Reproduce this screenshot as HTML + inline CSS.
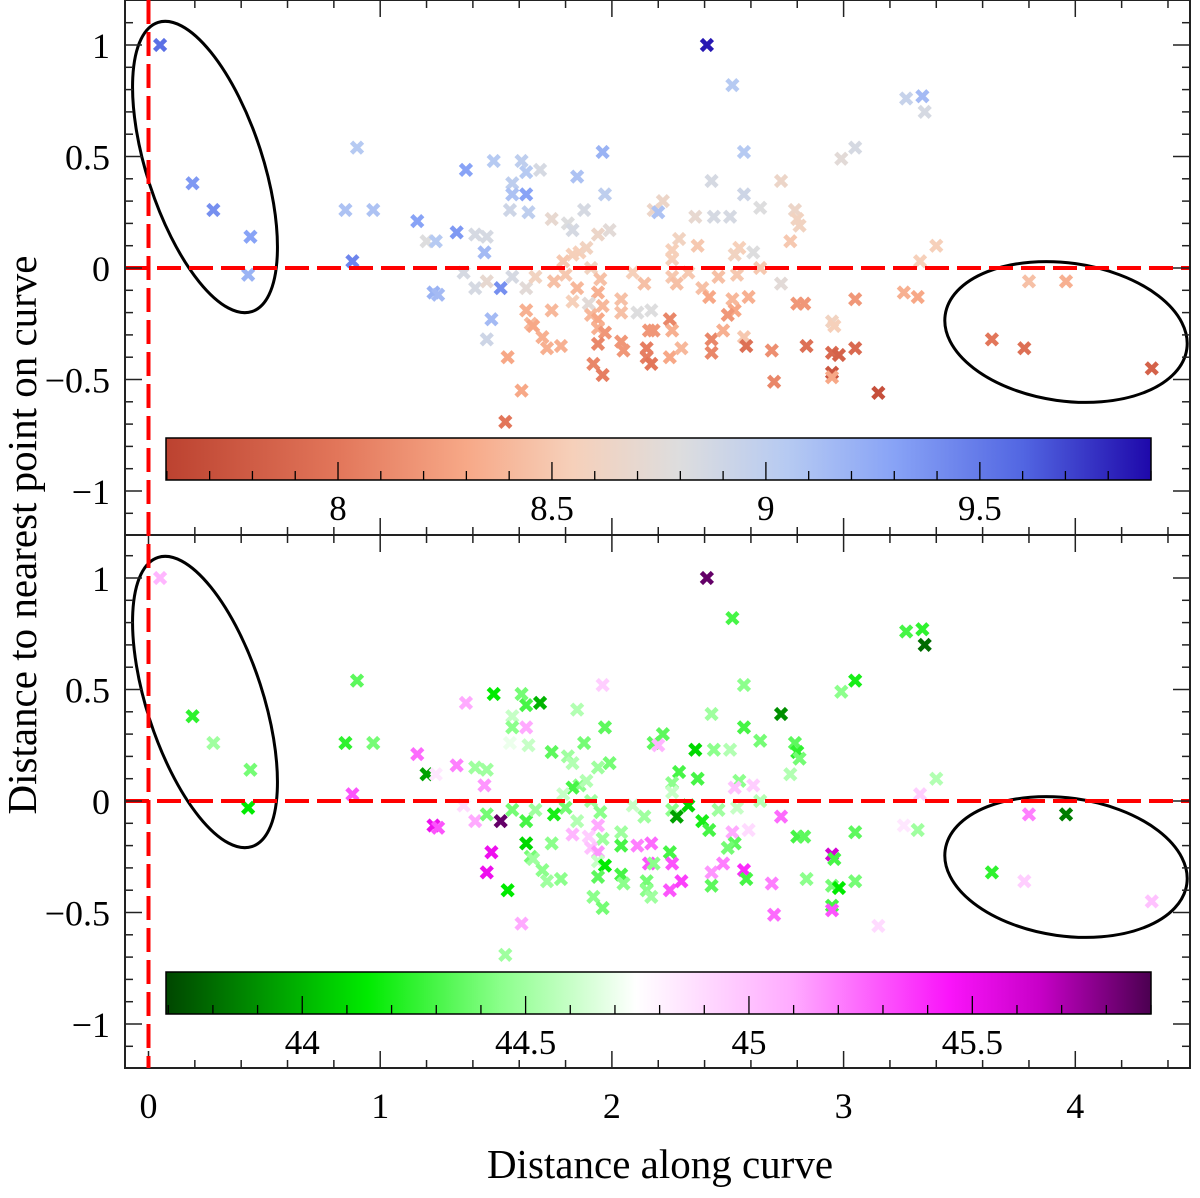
<!DOCTYPE html>
<html><head><meta charset="utf-8"><style>
html,body{margin:0;padding:0;background:#fff}
svg text{font-family:"Liberation Serif",serif;fill:#000}
</style></head><body>
<svg id="chart" xmlns="http://www.w3.org/2000/svg" width="1200" height="1193" viewBox="0 0 1200 1193">
<defs>
<linearGradient id="gTop" x1="0" x2="1" y1="0" y2="0"></linearGradient>
<linearGradient id="gBot" x1="0" x2="1" y1="0" y2="0"></linearGradient>
</defs>
<g id="root"></g>
<text x="0" y="0" font-size="41" text-anchor="middle" transform="translate(36,535) rotate(-90)">Distance to nearest point on curve</text>
<text x="660" y="1178" font-size="41" text-anchor="middle">Distance along curve</text>
</svg>
<script>
const xVals=[0.05,0.19,0.28,0.44,0.43,0.90,0.85,0.97,1.16,0.88,1.37,1.49,1.61,1.63,1.57,1.57,1.63,1.56,1.64,1.33,1.20,1.24,1.41,1.46,1.45,1.36,1.41,1.46,1.52,1.23,1.25,1.48,1.46,1.55,1.61,1.54,1.57,1.63,1.63,1.65,
2.41,2.52,3.27,3.34,3.35,3.05,2.99,1.96,1.85,1.69,1.97,2.57,2.43,2.57,2.73,1.88,1.74,1.81,1.83,1.94,1.99,2.18,2.22,2.20,2.36,2.44,2.51,2.64,2.79,2.80,2.81,2.77,3.40,3.33,2.29,2.26,2.26,2.37,2.55,2.53,2.61,1.86,1.83,1.89,1.79,1.91,2.64,1.67,1.80,1.75,1.95,2.09,2.14,2.26,2.28,2.33,2.46,2.54,2.73,1.85,2.39,2.42,1.94,1.83,1.90,1.96,2.04,2.04,2.11,2.17,1.74,2.52,2.59,2.53,2.50,2.80,2.83,3.05,3.26,3.32,1.66,1.91,1.94,2.25,2.26,2.16,2.18,1.94,1.97,2.95,2.96,1.70,1.72,1.78,1.94,2.04,2.05,2.15,2.15,2.17,2.25,2.30,2.43,2.43,2.48,2.57,2.58,2.69,2.84,2.95,2.98,3.05,1.92,1.96,2.95,2.95,2.70,3.15,3.64,3.78,3.80,3.96,4.33];
const yVals=[1.00,0.38,0.26,0.14,-0.03,0.54,0.26,0.26,0.21,0.03,0.44,0.48,0.48,0.43,0.38,0.33,0.33,0.26,0.25,0.16,0.12,0.12,0.15,0.14,0.07,-0.02,-0.09,-0.06,-0.09,-0.11,-0.12,-0.23,-0.32,-0.40,-0.55,-0.69,-0.04,-0.09,-0.19,-0.25,
1.00,0.82,0.76,0.77,0.70,0.54,0.49,0.52,0.41,0.44,0.33,0.52,0.39,0.33,0.39,0.26,0.22,0.20,0.17,0.15,0.17,0.26,0.30,0.25,0.23,0.23,0.23,0.27,0.26,0.22,0.19,0.12,0.10,0.03,0.13,0.08,0.04,0.10,0.09,0.06,0.07,0.07,0.06,0.09,0.03,0.00,0.00,-0.04,-0.03,-0.06,-0.05,-0.02,-0.07,-0.04,-0.07,-0.02,-0.04,-0.03,-0.07,-0.09,-0.09,-0.13,-0.11,-0.15,-0.16,-0.17,-0.14,-0.20,-0.20,-0.19,-0.19,-0.14,-0.13,-0.19,-0.21,-0.16,-0.16,-0.14,-0.11,-0.13,-0.26,-0.21,-0.23,-0.23,-0.28,-0.28,-0.28,-0.27,-0.29,-0.24,-0.26,-0.31,-0.36,-0.35,-0.34,-0.33,-0.37,-0.36,-0.40,-0.43,-0.40,-0.36,-0.32,-0.38,-0.28,-0.31,-0.35,-0.37,-0.35,-0.38,-0.39,-0.36,-0.43,-0.48,-0.47,-0.49,-0.51,-0.56,-0.32,-0.36,-0.06,-0.06,-0.45];
const topColorVals=[9.55,9.35,9.4,9.3,9.2,9.05,9.1,9.1,9.3,9.45,9.3,9.05,9.0,9.05,9.0,9.1,9.3,8.9,9.0,9.35,8.8,9.05,8.85,8.85,9.15,8.85,8.85,8.7,9.4,9.2,9.15,9.15,8.9,8.3,8.3,8.0,8.85,8.75,8.35,8.4,
9.85,9.05,8.95,9.15,8.85,8.85,8.75,9.2,9.1,8.85,9.0,9.05,8.85,8.9,8.65,8.85,8.7,8.8,8.85,8.65,8.75,8.65,8.65,9.1,8.7,8.85,8.85,8.8,8.65,8.6,8.6,8.5,8.55,8.55,8.6,8.55,8.55,8.5,8.55,8.6,8.8,8.55,8.55,8.6,8.5,8.6,8.5,8.6,8.5,8.45,8.45,8.55,8.45,8.5,8.45,8.5,8.45,8.5,8.75,8.4,8.45,8.3,8.35,8.55,8.75,8.4,8.45,8.45,8.8,8.8,8.4,8.4,8.35,8.3,8.2,8.2,8.2,8.2,8.35,8.3,8.3,8.4,8.3,8.1,8.35,8.2,8.2,8.35,8.2,8.6,8.55,8.35,8.35,8.35,8.1,8.2,8.2,8.05,8.05,8.0,8.3,8.4,8.1,8.1,8.35,8.5,7.95,8.15,7.95,7.9,7.85,7.9,8.1,8.05,7.75,8.3,8.1,7.7,8.0,7.95,8.45,8.35,7.85];
const botColorVals=[45.05,44.25,44.5,44.4,44.15,44.35,44.25,44.4,45.25,45.3,45.1,44.15,44.4,44.3,44.6,44.45,45.1,44.7,44.6,45.2,43.95,44.85,44.5,44.5,45.15,44.9,45.1,44.4,45.85,45.5,45.3,45.5,45.5,44.15,45.1,44.5,44.4,44.3,44.1,44.4,
45.85,44.3,44.3,44.25,43.8,44.2,44.45,44.95,44.55,44.0,44.35,44.45,44.5,44.3,43.9,44.4,44.35,44.5,44.55,44.5,44.4,44.35,44.35,45.05,44.1,44.45,44.55,44.4,44.35,44.25,44.4,44.55,44.55,44.95,44.3,44.45,44.6,44.3,44.45,45.0,44.95,44.45,44.3,44.55,44.6,44.5,44.55,44.5,44.4,44.2,44.45,44.6,44.5,44.45,43.95,44.1,44.5,44.6,45.25,44.55,44.2,44.3,45.1,45.05,44.95,44.5,44.5,44.3,45.2,45.25,44.45,45.1,44.9,44.35,44.4,44.3,44.35,44.35,44.85,44.5,44.5,45.0,45.15,44.3,45.3,45.3,44.45,44.6,44.15,45.6,44.3,44.45,44.5,44.45,44.35,44.3,44.45,44.4,44.45,44.5,45.3,45.35,45.15,44.35,45.2,45.4,44.3,45.2,44.45,44.4,44.15,44.4,44.45,44.4,44.3,45.3,45.25,44.9,44.25,44.95,45.2,43.85,45.0];
const xTickLabels=["0","1","2","3","4"];
const yTickLabels=["1","0.5","0","\u22120.5","\u22121"];
const topCbTicks=["8","8.5","9","9.5"];
const botCbTicks=["44","44.5","45","45.5"];

const NS="http://www.w3.org/2000/svg";
const root=document.getElementById('root');
function mk(tag,attrs,parent){const e=document.createElementNS(NS,tag);for(const k in attrs)e.setAttribute(k,attrs[k]);(parent||root).appendChild(e);return e;}
const L=125,R=1190;
const xS=v=>148.5+v*231.7;
const panels=[{top:0,bot:535,zero:268,name:'top'},{top:535,bot:1068,zero:801,name:'bottom'}];
const yS=(p,v)=>p.zero-v*223;

const topStops=[[7.6,[188,66,48]],[8.0,[226,118,90]],[8.3,[247,168,135]],[8.55,[246,208,186]],[8.8,[221,221,222]],[9.05,[182,202,242]],[9.3,[136,163,246]],[9.6,[82,102,226]],[9.9,[30,8,170]]];
const botStops=[[43.7,[0,70,0]],[44.15,[0,235,0]],[44.45,[140,255,140]],[44.75,[255,255,255]],[45.1,[255,170,255]],[45.45,[250,20,250]],[45.65,[200,0,200]],[45.9,[75,0,80]]];
function cmap(stops,v){if(v<=stops[0][0])return 'rgb('+stops[0][1]+')';for(let i=1;i<stops.length;i++){if(v<=stops[i][0]){const a=stops[i-1],b=stops[i];const t=(v-a[0])/(b[0]-a[0]);return 'rgb('+a[1].map((c,j)=>Math.round(c+(b[1][j]-c)*t)).join(',')+')';}}return 'rgb('+stops[stops.length-1][1]+')';}
function fillGrad(id,stops){const g=document.getElementById(id);const lo=stops[0][0],hi=stops[stops.length-1][0];stops.forEach(s=>{const st=document.createElementNS(NS,'stop');st.setAttribute('offset',((s[0]-lo)/(hi-lo)*100)+'%');st.setAttribute('stop-color','rgb('+s[1]+')');g.appendChild(st);});}
fillGrad('gTop',topStops);fillGrad('gBot',botStops);

panels.forEach((p,pi)=>{
  const g=mk('g',{});
  
  
  const e1=mk('ellipse',{cx:205,cy:p.top+167,rx:58,ry:152,transform:`rotate(-18 205 ${p.top+167})`,fill:'none',stroke:'#000','stroke-width':3},g);
  
  
  const e2=mk('ellipse',{cx:1066,cy:p.top+332,rx:122,ry:69,transform:`rotate(8 1066 ${p.top+332})`,fill:'none',stroke:'#000','stroke-width':3},g);
  
  
  const cols=pi===0?topColorVals:botColorVals;const stops=pi===0?topStops:botStops;
  for(let i=0;i<xVals.length;i++){
    const cx=xS(xVals[i]),cy=yS(p,yVals[i]),c=cmap(stops,cols[i]),s=5.5;
    const m=mk('path',{d:`M${cx-s},${cy-s}L${cx+s},${cy+s}M${cx-s},${cy+s}L${cx+s},${cy-s}`,stroke:c,'stroke-width':4.6,fill:'none'},g);
    
    
  }
  const hz=mk('line',{x1:L,x2:R,y1:p.zero,y2:p.zero,stroke:'#ff0000','stroke-width':4,'stroke-dasharray':'24,8'},g);
  
  
  const cbTop=pi===0?438:972,cbH=42,cbL=166,cbR=1151;
  const lo=pi===0?7.598:43.695,hi=pi===0?9.9:45.9;
  const cS=v=>cbL+(v-lo)/(hi-lo)*(cbR-cbL);
  const cb=mk('rect',{x:cbL,y:cbTop,width:cbR-cbL,height:cbH,fill:pi===0?'url(#gTop)':'url(#gBot)',stroke:'#000','stroke-width':1.5},g);
  
  
  const labs=pi===0?topCbTicks:botCbTicks;
  for(let k=Math.ceil(lo*10);k<=Math.floor(hi*10);k++){const v=k/10;const maj=k%5===0;const x=cS(v);mk('line',{x1:x,x2:x,y1:cbTop+cbH,y2:cbTop+cbH-(maj?18:9),stroke:'#000','stroke-width':1.3},g);}
  labs.forEach(t=>{const tx=mk('text',{x:cS(parseFloat(t)),y:cbTop+cbH+40,'font-size':35,'text-anchor':'middle'},g);tx.textContent=t;});
  const fr=mk('rect',{x:L,y:p.top,width:R-L,height:p.bot-p.top,fill:'none',stroke:'#222','stroke-width':2},g);
  
  
  for(let k=0;k<=22;k++){const v=k/5;const x=xS(v);if(x>R)break;const maj=k%5===0;const len=maj?17:8;
    mk('line',{x1:x,x2:x,y1:p.top,y2:p.top+len,stroke:'#222','stroke-width':1.5},g);
    mk('line',{x1:x,x2:x,y1:p.bot,y2:p.bot-len,stroke:'#222','stroke-width':1.5},g);}
  for(let k=-11;k<=11;k++){const v=k/10;const y=yS(p,v);const maj=k%5===0;const len=maj?17:8;
    mk('line',{x1:L,x2:L+len,y1:y,y2:y,stroke:'#222','stroke-width':1.5},g);
    mk('line',{x1:R,x2:R-len,y1:y,y2:y,stroke:'#222','stroke-width':1.5},g);}
  yTickLabels.forEach((t,i)=>{const v=1-i*0.5;const tx=mk('text',{x:110,y:yS(p,v)+13,'font-size':36,'text-anchor':'end'},g);tx.textContent=t;});
});
const vz=mk('line',{x1:xS(0),x2:xS(0),y1:0,y2:1068,stroke:'#ff0000','stroke-width':4,'stroke-dasharray':'24,8'});


xTickLabels.forEach((t,i)=>{const tx=mk('text',{x:xS(i),y:1118,'font-size':36,'text-anchor':'middle'});tx.textContent=t;});
</script>
</body></html>
